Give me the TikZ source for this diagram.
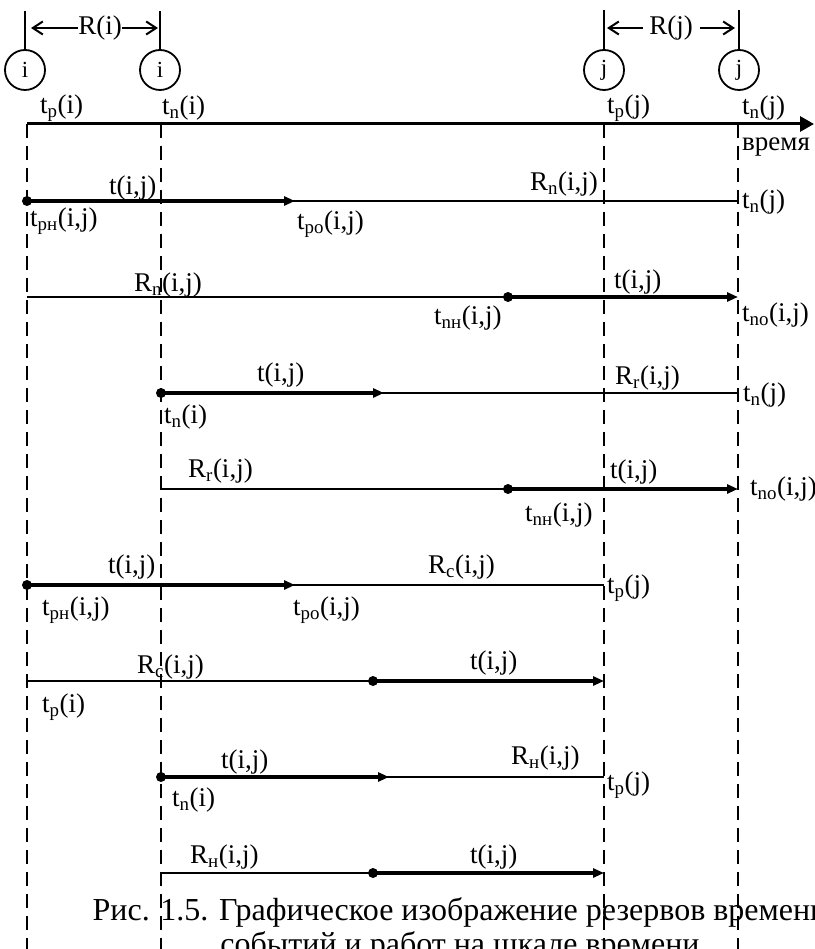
\documentclass[tikz,border=0pt]{standalone}
\usepackage{fontspec}
\setmainfont{Liberation Serif}
\usetikzlibrary{arrows.meta}
\newcommand{\sbs}[1]{\textsubscript{#1}}
\begin{document}
\begin{tikzpicture}[x=1pt,y=-1pt,
  lbl/.style={anchor=west,inner sep=0pt,font=\fontsize{27}{31}\selectfont},
  evt/.style={circle,draw,line width=1.8pt,minimum size=40pt,inner sep=0pt,font=\fontsize{23}{26}\selectfont},
  guide/.style={line width=2pt,dash pattern=on 14pt off 8pt},
  thinln/.style={line width=2.5pt},
  work/.style={line width=3.5pt,-{Triangle[length=11pt,width=9pt]}},
  dotn/.style={circle,fill,inner sep=0pt,minimum size=10pt},
  rng/.style={line width=2pt,-{Straight Barb[length=10pt,width=13pt]}},
  tick/.style={line width=2pt},
  capt/.style={anchor=base,inner sep=0pt,font=\fontsize{32}{36}\selectfont},
]
\useasboundingbox (0,0) rectangle (814,949);
\clip (0,0) rectangle (814,949);

% event circles
\node[evt] (ci1) at (25,70) {i};
\node[evt] (ci2) at (160,70) {i};
\node[evt] (cj1) at (604,70) {j};
\node[evt] (cj2) at (739,70) {j};
\coordinate (ti1) at (25,11);
\coordinate (ti2) at (160,11);
\coordinate (tj1) at (604,10);
\coordinate (tj2) at (739,10);
\draw[tick] (ci1.north) -- (ti1);
\draw[tick] (ci2.north) -- (ti2);
\draw[tick] (cj1.north) -- (tj1);
\draw[tick] (cj2.north) -- (tj2);

% reserve of events
\node[lbl,anchor=center] (Ri) at (100,28) {R(i)};
\coordinate (ri1) at (31,28);
\coordinate (ri2) at (158,28);
\draw[rng] (Ri.west) -- (ri1);
\draw[rng] (Ri.east) -- (ri2);
\node[lbl,anchor=center] (Rj) at (671,28) {R(j)};
\coordinate (rj1) at (607,28);
\coordinate (rj2) at (735,28);
\coordinate (rj1e) at (643,28);
\coordinate (rj2s) at (700,28);
\draw[rng] (rj1e) -- (rj1);
\draw[rng] (rj2s) -- (rj2);

% time axis
\coordinate (ax0) at (27,124);
\coordinate (ax1) at (814,124);
\draw[line width=3pt,-{Triangle[length=14pt,width=15pt]}] (ax0) -- (ax1);
\node[lbl] (lab1) at (40,108) {t\sbs{p}(i)};
\node[lbl] (lab2) at (162,108) {t\sbs{n}(i)};
\node[lbl] (lab3) at (607,108) {t\sbs{p}(j)};
\node[lbl] (lab4) at (742,108) {t\sbs{n}(j)};
\node[lbl] (lab5) at (742,147) {время};

% dashed guides
\foreach \gx/\gn in {27/A,161/B,604/C,738/D}{
  \coordinate (\gn top) at (\gx,124);
  \coordinate (\gn bot) at (\gx,960);
  \draw[guide] (\gn top) -- (\gn bot);
}

% row 1
\coordinate (r1a) at (27,201); \coordinate (r1b) at (295,201); \coordinate (r1c) at (738,201);
\draw[thinln] (r1a) -- (r1c);
\draw[work] (r1a) -- (r1b);
\node[dotn] (d1) at (r1a) {};
\node[lbl] at (109,188) {t(i,j)};
\node[lbl] at (30,221) {t\sbs{pн}(i,j)};
\node[lbl] at (297,224) {t\sbs{po}(i,j)};
\node[lbl] at (530,184) {R\sbs{n}(i,j)};
\node[lbl] at (742,202) {t\sbs{n}(j)};

% row 2
\coordinate (r2a) at (27,297); \coordinate (r2b) at (508,297); \coordinate (r2c) at (738,297);
\draw[thinln] (r2a) -- (r2b);
\draw[work] (r2b) -- (r2c);
\node[dotn] (d2) at (r2b) {};
\node[lbl] at (134,285) {R\sbs{n}(i,j)};
\node[lbl] at (614,282) {t(i,j)};
\node[lbl] at (434,318) {t\sbs{nн}(i,j)};
\node[lbl] at (742,315) {t\sbs{no}(i,j)};

% row 3
\coordinate (r3a) at (161,393); \coordinate (r3b) at (384,393); \coordinate (r3c) at (738,393);
\draw[thinln] (r3a) -- (r3c);
\draw[work] (r3a) -- (r3b);
\node[dotn] (d3) at (r3a) {};
\node[lbl] at (257,375) {t(i,j)};
\node[lbl] at (615,378) {R\sbs{r}(i,j)};
\node[lbl] at (743,395) {t\sbs{n}(j)};
\node[lbl] at (164,417) {t\sbs{n}(i)};

% row 4
\coordinate (r4a) at (161,489); \coordinate (r4b) at (508,489); \coordinate (r4c) at (738,489);
\draw[thinln] (r4a) -- (r4b);
\draw[work] (r4b) -- (r4c);
\node[dotn] (d4) at (r4b) {};
\node[lbl] at (188,471) {R\sbs{r}(i,j)};
\node[lbl] at (610,472) {t(i,j)};
\node[lbl] at (525,515) {t\sbs{nн}(i,j)};
\node[lbl] at (750,489) {t\sbs{no}(i,j)};

% row 5
\coordinate (r5a) at (27,585); \coordinate (r5b) at (295,585); \coordinate (r5c) at (604,585);
\draw[thinln] (r5a) -- (r5c);
\draw[work] (r5a) -- (r5b);
\node[dotn] (d5) at (r5a) {};
\node[lbl] at (108,567) {t(i,j)};
\node[lbl] at (428,567) {R\sbs{c}(i,j)};
\node[lbl] at (607,588) {t\sbs{p}(j)};
\node[lbl] at (42,610) {t\sbs{pн}(i,j)};
\node[lbl] at (293,610) {t\sbs{po}(i,j)};

% row 6
\coordinate (r6a) at (27,681); \coordinate (r6b) at (373,681); \coordinate (r6c) at (604,681);
\draw[thinln] (r6a) -- (r6b);
\draw[work] (r6b) -- (r6c);
\node[dotn] (d6) at (r6b) {};
\node[lbl] at (137,667) {R\sbs{c}(i,j)};
\node[lbl] at (470,663) {t(i,j)};
\node[lbl] at (42,707) {t\sbs{p}(i)};

% row 7
\coordinate (r7a) at (161,777); \coordinate (r7b) at (389,777); \coordinate (r7c) at (604,777);
\draw[thinln] (r7a) -- (r7c);
\draw[work] (r7a) -- (r7b);
\node[dotn] (d7) at (r7a) {};
\node[lbl] at (221,762) {t(i,j)};
\node[lbl] at (511,758) {R\sbs{н}(i,j)};
\node[lbl] at (607,785) {t\sbs{p}(j)};
\node[lbl] at (172,800) {t\sbs{n}(i)};

% row 8
\coordinate (r8a) at (161,873); \coordinate (r8b) at (373,873); \coordinate (r8c) at (604,873);
\draw[thinln] (r8a) -- (r8b);
\draw[work] (r8b) -- (r8c);
\node[dotn] (d8) at (r8b) {};
\node[lbl] at (190,857) {R\sbs{н}(i,j)};
\node[lbl] at (470,857) {t(i,j)};

% caption
\node[capt] (cap1) at (460,920) {Рис. 1.5. Графическое изображение резервов времени};
\node[capt] (cap2) at (460,954) {событий и работ на шкале времени};
\end{tikzpicture}
\end{document}
